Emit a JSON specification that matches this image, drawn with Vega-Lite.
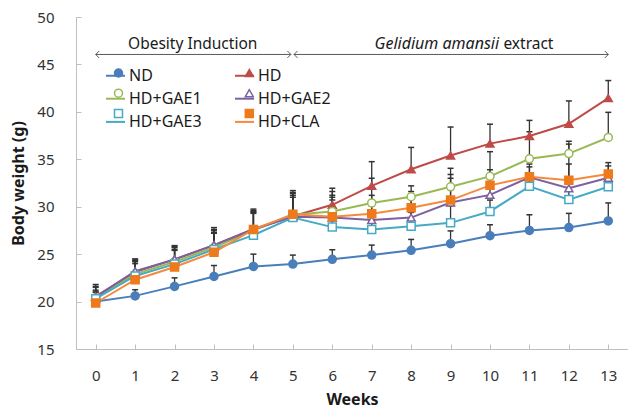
{
  "$schema": "https://vega.github.io/schema/vega-lite/v6.json",
  "width": 552,
  "height": 332,
  "autosize": {"type": "none"},
  "padding": {"left": 76, "top": 17, "right": 0, "bottom": 59},
  "background": "white",
  "config": {
    "view": {"stroke": null},
    "font": "Noto Sans",
    "axis": {
      "grid": false,
      "domainColor": "#BFBFBF",
      "tickColor": "#BFBFBF",
      "tickSize": -5,
      "labelFont": "Noto Sans",
      "labelFontSize": 15,
      "labelColor": "#333333",
      "titleFont": "Noto Sans",
      "titleFontSize": 16,
      "titleFontWeight": "bold",
      "titleColor": "#1a1a1a"
    }
  },
  "datasets": {
    "weights": [
      {"group": "ND", "week": 0, "mean": 20.0, "top": 21.0},
      {"group": "ND", "week": 1, "mean": 20.6, "top": 21.25},
      {"group": "ND", "week": 2, "mean": 21.6, "top": 22.5},
      {"group": "ND", "week": 3, "mean": 22.65, "top": 23.8},
      {"group": "ND", "week": 4, "mean": 23.7, "top": 25.0},
      {"group": "ND", "week": 5, "mean": 23.95, "top": 24.9},
      {"group": "ND", "week": 6, "mean": 24.45, "top": 25.45},
      {"group": "ND", "week": 7, "mean": 24.9, "top": 25.95},
      {"group": "ND", "week": 8, "mean": 25.4, "top": 26.55},
      {"group": "ND", "week": 9, "mean": 26.1, "top": 27.45},
      {"group": "ND", "week": 10, "mean": 26.95, "top": 28.1},
      {"group": "ND", "week": 11, "mean": 27.5, "top": 29.15},
      {"group": "ND", "week": 12, "mean": 27.8, "top": 29.3},
      {"group": "ND", "week": 13, "mean": 28.5, "top": 30.4},
      {"group": "HD", "week": 0, "mean": 20.55, "top": 21.8},
      {"group": "HD", "week": 1, "mean": 23.1, "top": 24.5},
      {"group": "HD", "week": 2, "mean": 24.45, "top": 25.9},
      {"group": "HD", "week": 3, "mean": 25.95, "top": 27.8},
      {"group": "HD", "week": 4, "mean": 27.65, "top": 29.75},
      {"group": "HD", "week": 5, "mean": 29.0, "top": 31.7},
      {"group": "HD", "week": 6, "mean": 30.2, "top": 31.95},
      {"group": "HD", "week": 7, "mean": 32.2, "top": 34.75},
      {"group": "HD", "week": 8, "mean": 33.95, "top": 36.25},
      {"group": "HD", "week": 9, "mean": 35.4, "top": 38.4},
      {"group": "HD", "week": 10, "mean": 36.65, "top": 38.7},
      {"group": "HD", "week": 11, "mean": 37.45, "top": 39.1},
      {"group": "HD", "week": 12, "mean": 38.75, "top": 41.15},
      {"group": "HD", "week": 13, "mean": 41.45, "top": 43.3},
      {"group": "HD+GAE1", "week": 0, "mean": 20.4, "top": 21.6},
      {"group": "HD+GAE1", "week": 1, "mean": 22.9, "top": 24.3},
      {"group": "HD+GAE1", "week": 2, "mean": 24.2, "top": 25.7},
      {"group": "HD+GAE1", "week": 3, "mean": 25.7, "top": 27.5},
      {"group": "HD+GAE1", "week": 4, "mean": 27.5, "top": 29.5},
      {"group": "HD+GAE1", "week": 5, "mean": 29.15, "top": 31.4},
      {"group": "HD+GAE1", "week": 6, "mean": 29.5, "top": 31.6},
      {"group": "HD+GAE1", "week": 7, "mean": 30.4, "top": 33.0},
      {"group": "HD+GAE1", "week": 8, "mean": 31.05, "top": 32.2},
      {"group": "HD+GAE1", "week": 9, "mean": 32.1, "top": 34.05},
      {"group": "HD+GAE1", "week": 10, "mean": 33.2, "top": 35.8},
      {"group": "HD+GAE1", "week": 11, "mean": 35.05, "top": 37.9},
      {"group": "HD+GAE1", "week": 12, "mean": 35.6, "top": 36.9},
      {"group": "HD+GAE1", "week": 13, "mean": 37.3, "top": 39.95},
      {"group": "HD+GAE2", "week": 0, "mean": 20.5, "top": 21.5},
      {"group": "HD+GAE2", "week": 1, "mean": 23.2, "top": 24.4},
      {"group": "HD+GAE2", "week": 2, "mean": 24.45, "top": 25.8},
      {"group": "HD+GAE2", "week": 3, "mean": 25.95, "top": 27.6},
      {"group": "HD+GAE2", "week": 4, "mean": 27.6, "top": 29.6},
      {"group": "HD+GAE2", "week": 5, "mean": 28.95, "top": 31.5},
      {"group": "HD+GAE2", "week": 6, "mean": 28.85, "top": 31.2},
      {"group": "HD+GAE2", "week": 7, "mean": 28.6, "top": 30.1},
      {"group": "HD+GAE2", "week": 8, "mean": 28.85, "top": 30.9},
      {"group": "HD+GAE2", "week": 9, "mean": 30.45, "top": 33.4},
      {"group": "HD+GAE2", "week": 10, "mean": 31.25, "top": 33.35},
      {"group": "HD+GAE2", "week": 11, "mean": 33.1, "top": 34.5},
      {"group": "HD+GAE2", "week": 12, "mean": 31.95, "top": 36.6},
      {"group": "HD+GAE2", "week": 13, "mean": 33.05, "top": 34.3},
      {"group": "HD+GAE3", "week": 0, "mean": 20.3, "top": 21.2},
      {"group": "HD+GAE3", "week": 1, "mean": 22.7, "top": 24.0},
      {"group": "HD+GAE3", "week": 2, "mean": 23.95, "top": 25.4},
      {"group": "HD+GAE3", "week": 3, "mean": 25.5, "top": 27.2},
      {"group": "HD+GAE3", "week": 4, "mean": 27.0, "top": 29.3},
      {"group": "HD+GAE3", "week": 5, "mean": 28.85, "top": 31.0},
      {"group": "HD+GAE3", "week": 6, "mean": 27.85, "top": 30.7},
      {"group": "HD+GAE3", "week": 7, "mean": 27.6, "top": 28.6},
      {"group": "HD+GAE3", "week": 8, "mean": 27.95, "top": 29.4},
      {"group": "HD+GAE3", "week": 9, "mean": 28.3, "top": 30.1},
      {"group": "HD+GAE3", "week": 10, "mean": 29.5, "top": 30.7},
      {"group": "HD+GAE3", "week": 11, "mean": 32.15, "top": 33.0},
      {"group": "HD+GAE3", "week": 12, "mean": 30.75, "top": 31.8},
      {"group": "HD+GAE3", "week": 13, "mean": 32.1, "top": 33.4},
      {"group": "HD+CLA", "week": 0, "mean": 19.85, "top": 21.0},
      {"group": "HD+CLA", "week": 1, "mean": 22.3, "top": 24.2},
      {"group": "HD+CLA", "week": 2, "mean": 23.65, "top": 25.5},
      {"group": "HD+CLA", "week": 3, "mean": 25.2, "top": 27.3},
      {"group": "HD+CLA", "week": 4, "mean": 27.6, "top": 29.4},
      {"group": "HD+CLA", "week": 5, "mean": 29.2, "top": 31.2},
      {"group": "HD+CLA", "week": 6, "mean": 28.95, "top": 31.0},
      {"group": "HD+CLA", "week": 7, "mean": 29.25, "top": 31.2},
      {"group": "HD+CLA", "week": 8, "mean": 29.9, "top": 31.6},
      {"group": "HD+CLA", "week": 9, "mean": 30.7, "top": 33.0},
      {"group": "HD+CLA", "week": 10, "mean": 32.25, "top": 33.9},
      {"group": "HD+CLA", "week": 11, "mean": 33.15, "top": 34.2},
      {"group": "HD+CLA", "week": 12, "mean": 32.8, "top": 34.5},
      {"group": "HD+CLA", "week": 13, "mean": 33.45, "top": 34.65}
    ],
    "arrows": [
      {"start": 0, "end": 4.95, "level": 46.05},
      {"start": 5.03, "end": 13, "level": 46.05}
    ],
    "heads": [
      {"pos": 0, "level": 46.05, "dir": "left"},
      {"pos": 4.95, "level": 46.05, "dir": "right"},
      {"pos": 5.03, "level": 46.05, "dir": "left"},
      {"pos": 13, "level": 46.05, "dir": "right"}
    ],
    "notes": [
      {"txt": "Obesity Induction", "pos": 2.46, "level": 47.15, "kind": "center"},
      {"txt": "Gelidium amansii", "pos": 10.23, "level": 47.15, "kind": "italic"},
      {"txt": "extract", "pos": 10.34, "level": 47.15, "kind": "plain"}
    ]
  },
  "layer": [
    {
      "data": {"name": "arrows"},
      "mark": {"type": "rule", "color": "#595959", "strokeWidth": 1},
      "encoding": {
        "x": {"field": "start", "type": "quantitative", "scale": {"domain": [-0.5, 13.5], "nice": false, "zero": false},
              "axis": {"values": [0,1,2,3,4,5,6,7,8,9,10,11,12,13], "format": "d", "title": "Weeks", "labelPadding": 24, "titlePadding": 8}},
        "x2": {"field": "end"},
        "y": {"field": "level", "type": "quantitative", "scale": {"domain": [15, 50], "nice": false, "zero": false},
              "axis": {"values": [15,20,25,30,35,40,45,50], "title": "Body weight (g)", "labelPadding": 27, "titlePadding": 10}}
      }
    },
    {
      "data": {"name": "heads"},
      "transform": [{"filter": "datum.dir == 'left'"}],
      "mark": {"type": "point", "shape": "M1,-1L0,0L1,1", "size": 49, "filled": false, "stroke": "#595959", "strokeWidth": 1, "opacity": 1},
      "encoding": {
        "x": {"field": "pos", "type": "quantitative"},
        "y": {"field": "level", "type": "quantitative"}
      }
    },
    {
      "data": {"name": "heads"},
      "transform": [{"filter": "datum.dir == 'right'"}],
      "mark": {"type": "point", "shape": "M-1,-1L0,0L-1,1", "size": 49, "filled": false, "stroke": "#595959", "strokeWidth": 1, "opacity": 1},
      "encoding": {
        "x": {"field": "pos", "type": "quantitative"},
        "y": {"field": "level", "type": "quantitative"}
      }
    },
    {
      "data": {"name": "notes"},
      "transform": [{"filter": "datum.kind == 'center'"}],
      "mark": {"type": "text", "align": "center", "baseline": "middle", "fontSize": 15.5, "color": "#1a1a1a"},
      "encoding": {
        "x": {"field": "pos", "type": "quantitative"},
        "y": {"field": "level", "type": "quantitative"},
        "text": {"field": "txt"}
      }
    },
    {
      "data": {"name": "notes"},
      "transform": [{"filter": "datum.kind == 'italic'"}],
      "mark": {"type": "text", "align": "right", "baseline": "middle", "fontSize": 16, "fontStyle": "italic", "color": "#1a1a1a"},
      "encoding": {
        "x": {"field": "pos", "type": "quantitative"},
        "y": {"field": "level", "type": "quantitative"},
        "text": {"field": "txt"}
      }
    },
    {
      "data": {"name": "notes"},
      "transform": [{"filter": "datum.kind == 'plain'"}],
      "mark": {"type": "text", "align": "left", "baseline": "middle", "fontSize": 15.5, "color": "#1a1a1a"},
      "encoding": {
        "x": {"field": "pos", "type": "quantitative"},
        "y": {"field": "level", "type": "quantitative"},
        "text": {"field": "txt"}
      }
    },
    {
      "data": {"name": "weights"},
      "transform": [{"calculate": "datum.group", "as": "series"}],
      "mark": {"type": "line", "strokeWidth": 2},
      "encoding": {
        "x": {"field": "week", "type": "quantitative"},
        "y": {"field": "mean", "type": "quantitative"},
        "color": {"field": "series", "type": "nominal",
          "sort": ["ND","HD","HD+GAE1","HD+GAE2","HD+GAE3","HD+CLA"],
          "scale": {"range": ["#4A7EBB","#BE4B48","#98B954","#7D60A0","#46AAC5","#F58A3C"]},
          "legend": {"orient": "none", "legendX": 29, "legendY": 48, "columns": 2, "direction": "horizontal", "title": null,
                     "symbolType": "stroke", "symbolSize": 361, "symbolStrokeWidth": 2,
                     "labelFontSize": 16, "labelFont": "Noto Sans", "labelColor": "#1a1a1a", "labelOffset": 3,
                     "columnPadding": 29, "rowPadding": 4.2}}
      }
    },
    {
      "data": {"name": "weights"},
      "mark": {"type": "rule", "color": "#333333", "strokeWidth": 1.3},
      "encoding": {
        "x": {"field": "week", "type": "quantitative"},
        "y": {"field": "mean", "type": "quantitative"},
        "y2": {"field": "top"}
      }
    },
    {
      "data": {"name": "weights"},
      "mark": {"type": "tick", "orient": "horizontal", "size": 6, "thickness": 1.5, "color": "#333333", "opacity": 1},
      "encoding": {
        "x": {"field": "week", "type": "quantitative"},
        "y": {"field": "top", "type": "quantitative"}
      }
    },
    {
      "data": {"name": "weights"},
      "mark": {"type": "point", "size": 64, "strokeWidth": 1.5, "opacity": 1, "filled": false},
      "encoding": {
        "x": {"field": "week", "type": "quantitative"},
        "y": {"field": "mean", "type": "quantitative"},
        "stroke": {"field": "group", "type": "nominal",
          "scale": {"domain": ["ND","HD","HD+GAE1","HD+GAE2","HD+GAE3","HD+CLA"],
                    "range": ["#4A7EBB","#BE4B48","#98B954","#7D60A0","#46AAC5","#EE7A1C"]},
          "legend": {"orient": "none", "legendX": 34.5, "legendY": 48, "columns": 2, "direction": "horizontal", "title": null,
                     "symbolSize": 64, "symbolStrokeWidth": 1.5,
                     "labelFontSize": 16, "labelFont": "Noto Sans", "labelExpr": "' '", "labelOffset": 4,
                     "columnPadding": 110.8, "rowPadding": 4.2}},
        "fill": {"field": "group", "type": "nominal",
          "scale": {"domain": ["ND","HD","HD+GAE1","HD+GAE2","HD+GAE3","HD+CLA"],
                    "range": ["#4A7EBB","#BE4B48","#FFFFFF","#FFFFFF","#FFFFFF","#EE7A1C"]},
          "legend": {"orient": "none", "legendX": 34.5, "legendY": 48}},
        "shape": {"field": "group", "type": "nominal",
          "scale": {"domain": ["ND","HD","HD+GAE1","HD+GAE2","HD+GAE3","HD+CLA"],
                    "range": ["circle","triangle-up","circle","triangle-up","square","square"]},
          "legend": {"orient": "none", "legendX": 34.5, "legendY": 48}}
      }
    }
  ]
}
